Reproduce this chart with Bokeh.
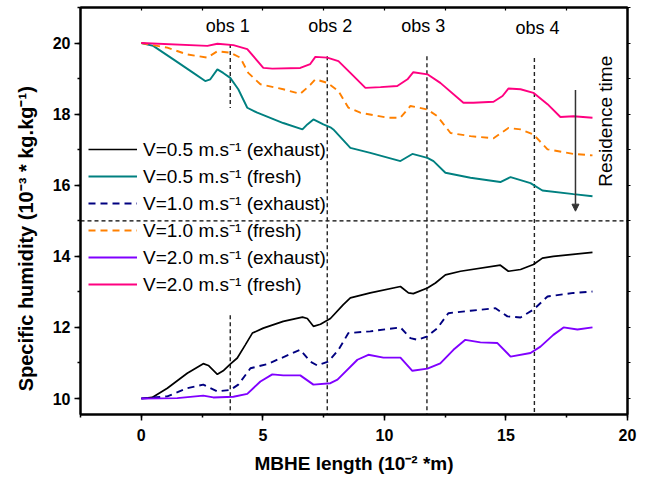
import numpy as np
from bokeh.plotting import figure
from bokeh.models import (Range1d, SingleIntervalTicker, FixedTicker, LinearAxis, Arrow, NormalHead,
                          Legend)
from bokeh.core.properties import value
from bokeh.embed import file_html
from bokeh.resources import INLINE

# ---------------- data ----------------
x_exh05 = [0, 0.45, 1.07, 1.89, 2.55, 2.76, 3.13, 3.37, 3.66, 3.95, 4.28, 4.57, 5.02, 5.84, 6.63, 6.83,
           7.08, 7.37, 7.78, 8.31, 8.60, 9.42, 10.66, 10.99, 11.19, 11.77, 12.10, 12.51, 13.13, 14.77,
           15.10, 15.60, 16.13, 16.50, 16.95, 18.56]
y_exh05 = [10.0, 10.03, 10.29, 10.71, 10.98, 10.93, 10.68, 10.78, 10.97, 11.14, 11.51, 11.84, 11.98, 12.17,
           12.29, 12.25, 12.03, 12.09, 12.25, 12.64, 12.83, 12.97, 13.15, 12.97, 12.95, 13.11, 13.25, 13.48,
           13.58, 13.75, 13.58, 13.63, 13.77, 13.95, 14.00, 14.11]

x_fr05 = [0, 0.49, 1.32, 2.14, 2.63, 2.84, 3.13, 3.37, 3.66, 3.99, 4.36, 4.77, 5.84, 6.63, 6.83, 7.08,
          7.49, 7.78, 7.90, 8.60, 9.42, 10.66, 11.15, 11.77, 12.02, 12.51, 13.54, 14.77, 15.19, 16.01,
          16.50, 17.78, 18.56]
y_fr05 = [20.0, 19.92, 19.54, 19.16, 18.93, 18.98, 19.26, 19.16, 19.02, 18.70, 18.18, 18.04, 17.75, 17.57,
          17.71, 17.85, 17.71, 17.63, 17.57, 17.05, 16.91, 16.68, 16.88, 16.77, 16.68, 16.35, 16.21, 16.09,
          16.23, 16.06, 15.85, 15.75, 15.69]

x_exh10 = [0, 1.07, 1.89, 2.55, 3.13, 3.66, 3.99, 4.49, 5.19, 6.54, 6.95, 7.24, 7.70, 8.11, 8.52, 9.42,
           10.66, 11.07, 11.36, 11.77, 12.18, 12.63, 13.54, 14.57, 15.06, 15.60, 16.13, 16.71, 17.78, 18.56]
y_exh10 = [10.0, 10.06, 10.29, 10.39, 10.20, 10.24, 10.39, 10.85, 10.97, 11.37, 11.04, 10.93, 11.04, 11.37,
           11.84, 11.89, 12.00, 11.70, 11.65, 11.75, 11.98, 12.40, 12.47, 12.54, 12.31, 12.28, 12.50, 12.87,
           12.97, 13.01]

x_fr10 = [0, 1.07, 1.89, 2.72, 3.13, 3.66, 4.07, 4.40, 4.90, 5.84, 6.54, 6.95, 7.16, 7.65, 8.11, 8.52,
          9.01, 10.12, 10.66, 11.07, 11.77, 12.18, 12.72, 13.54, 14.49, 15.10, 15.60, 16.13, 16.71, 17.78,
          18.56]
y_fr10 = [20.0, 19.87, 19.68, 19.59, 19.77, 19.73, 19.59, 19.16, 18.84, 18.70, 18.57, 18.82, 18.98, 18.88,
          18.65, 18.18, 18.04, 17.90, 17.90, 18.23, 18.13, 17.94, 17.47, 17.38, 17.32, 17.61, 17.57, 17.43,
          17.01, 16.88, 16.84]

x_exh20 = [0, 1.48, 2.55, 2.96, 3.79, 4.36, 4.90, 5.39, 5.84, 6.54, 7.08, 7.78, 8.07, 8.89, 9.34, 9.96,
           10.66, 11.15, 11.77, 12.30, 12.84, 13.33, 13.95, 14.65, 15.19, 16.01, 16.42, 16.95, 17.37, 17.94,
           18.56]
y_exh20 = [10.0, 10.01, 10.08, 10.03, 10.05, 10.13, 10.48, 10.68, 10.65, 10.65, 10.39, 10.43, 10.53, 11.09,
           11.23, 11.15, 11.15, 10.78, 10.84, 10.99, 11.37, 11.65, 11.58, 11.56, 11.18, 11.28, 11.46, 11.79,
           12.00, 11.94, 12.00]

x_fr20 = [0, 2.72, 3.13, 3.79, 4.36, 5.02, 5.39, 6.54, 6.95, 7.16, 7.65, 8.11, 8.60, 9.22, 9.84, 10.53,
          10.95, 11.19, 11.77, 12.30, 13.25, 13.66, 14.49, 14.86, 15.10, 15.60, 16.13, 16.71, 17.24, 17.78,
          18.56]
y_fr20 = [20.0, 19.92, 19.98, 19.94, 19.83, 19.30, 19.28, 19.30, 19.41, 19.61, 19.59, 19.49, 19.16, 18.74,
          18.76, 18.79, 18.98, 19.18, 19.12, 18.88, 18.32, 18.32, 18.35, 18.51, 18.72, 18.70, 18.60, 18.28,
          17.92, 17.94, 17.90]

series_labels = ["V=0.5 m.s\u207b\u00b9 (exhaust)", "V=0.5 m.s\u207b\u00b9 (fresh)",
                 "V=1.0 m.s\u207b\u00b9 (exhaust)", "V=1.0 m.s\u207b\u00b9 (fresh)",
                 "V=2.0 m.s\u207b\u00b9 (exhaust)", "V=2.0 m.s\u207b\u00b9 (fresh)"]

x_title = "MBHE length (10\u207b\u00b2 *m)"
y_title = "Specific humidity (10\u207b\u00b3 * kg.kg\u207b\u00b9)"

obs_labels = ["obs 1", "obs 2", "obs 3", "obs 4"]
obs_x = [3.66, 7.65, 11.75, 16.17]
obs_label_x = [3.56, 7.77, 11.6, 16.3]
obs_label_y = [20.48, 20.48, 20.48, 20.42]
obs_top = [19.97, 19.63, 19.63, 19.58]
obs1_gap = [18.17, 12.34]
divider_y = 15.0

arrow_x = 17.86
arrow_y = [18.68, 15.27]
residence_label = "Residence time"
residence_xy = [19.09, 17.8]

x_range = [-2.5, 20]
y_range = [9.55, 21.0]
x_minor_marks = [-2.5, 0, 2.5, 5, 7.5, 10, 12.5, 15, 17.5, 20]
y_minor_marks = [10, 11, 12, 13, 14, 15, 16, 17, 18, 19, 20, 21]

# ---------------- figure ----------------
FONT = "Liberation Sans"
p = figure(width=651, height=479, output_backend="svg", toolbar_location=None,
           x_range=Range1d(*x_range), y_range=Range1d(*y_range),
           min_border_left=80, min_border_right=24, min_border_top=7, min_border_bottom=65)
p.grid.visible = False
p.outline_line_color = "black"
p.outline_line_width = 2
p.background_fill_color = "white"
p.border_fill_color = "white"

p.xaxis.ticker = SingleIntervalTicker(interval=5, num_minor_ticks=2)
p.yaxis.ticker = SingleIntervalTicker(interval=2, num_minor_ticks=2)

for ax in (p.xaxis[0], p.yaxis[0]):
    ax.axis_line_width = 2
    ax.major_tick_line_width = 1.5
    ax.minor_tick_line_width = 1.5
    ax.major_tick_in = 0
    ax.major_tick_out = 6
    ax.minor_tick_in = 0
    ax.minor_tick_out = 3
    ax.major_label_text_font = FONT
    ax.major_label_text_font_style = "bold"
    ax.axis_label_text_font = FONT
    ax.axis_label_text_font_style = "bold"
    ax.major_label_text_color = "black"
    ax.axis_label_text_color = "black"

p.xaxis.major_label_text_font_size = "16px"
p.yaxis.major_label_text_font_size = "16px"
p.xaxis.axis_label = x_title
p.xaxis.axis_label_text_font_size = "19px"
p.xaxis.major_label_standoff = 8
p.xaxis.axis_label_standoff = 9
p.yaxis.major_label_standoff = 4
# trailing no-break spaces push the rotated title a little below the frame centre, as in the original
p.yaxis.axis_label = y_title + "\u00a0" * 10
p.yaxis.axis_label_text_font_size = "20px"
p.yaxis.axis_label_standoff = 13

top_ax = LinearAxis(ticker=FixedTicker(ticks=[], minor_ticks=x_minor_marks),
                    axis_line_width=2, minor_tick_in=3, minor_tick_out=0, minor_tick_line_width=1.2)
right_ax = LinearAxis(ticker=FixedTicker(ticks=[], minor_ticks=y_minor_marks),
                      axis_line_width=2, minor_tick_in=0, minor_tick_out=3, minor_tick_line_width=1.2)
p.add_layout(top_ax, "above")
p.add_layout(right_ax, "right")

# reference lines
p.segment(x0=[x_range[0]], x1=[x_range[1]], y0=[divider_y], y1=[divider_y],
          line_color="black", line_width=1.2, line_dash="4 3")
seg_x = [obs_x[0], obs_x[0], obs_x[1], obs_x[2], obs_x[3]]
seg_y0 = [obs_top[0], obs1_gap[1], obs_top[1], obs_top[2], obs_top[3]]
seg_y1 = [obs1_gap[0], y_range[0], y_range[0], y_range[0], y_range[0]]
p.segment(x0=seg_x, x1=seg_x, y0=seg_y0, y1=seg_y1, line_color="#222222", line_width=1.4,
          line_dash="4 3")

# series
r1 = p.line(x_exh05, y_exh05, line_color="black", line_width=1.7)
r2 = p.line(x_fr05, y_fr05, line_color="#008080", line_width=1.9)
r3 = p.line(x_exh10, y_exh10, line_color="#000080", line_width=1.9, line_dash="7 5")
r4 = p.line(x_fr10, y_fr10, line_color="#FF8000", line_width=1.9, line_dash="7 5")
r5 = p.line(x_exh20, y_exh20, line_color="#8000FF", line_width=1.9)
r6 = p.line(x_fr20, y_fr20, line_color="#FF0080", line_width=1.9)

legend = Legend(items=[(lab, [r]) for lab, r in zip(series_labels, [r1, r2, r3, r4, r5, r6])],
                location=(8, 117), background_fill_alpha=0, border_line_alpha=0,
                label_text_font=FONT, label_text_font_size="19px", label_text_color="black",
                glyph_width=49, glyph_height=20, label_height=20, spacing=1,
                padding=0, margin=0, label_standoff=6)
p.add_layout(legend, "center")

# annotations
p.text(x=obs_label_x, y=obs_label_y, text=obs_labels, text_font=value(FONT),
       text_font_size="18px", text_align="center", text_baseline="middle", text_color="black")
p.add_layout(Arrow(end=NormalHead(size=7, fill_color="#333333", line_color="#333333"),
                   x_start=arrow_x, y_start=arrow_y[0], x_end=arrow_x, y_end=arrow_y[1],
                   line_color="#333333", line_width=1.5))
p.text(x=[residence_xy[0]], y=[residence_xy[1]], text=[residence_label], angle=np.pi / 2,
       text_font=value(FONT), text_font_size="19px", text_align="center",
       text_baseline="middle", text_color="black")

open("out.html", "w").write(file_html(p, INLINE))
